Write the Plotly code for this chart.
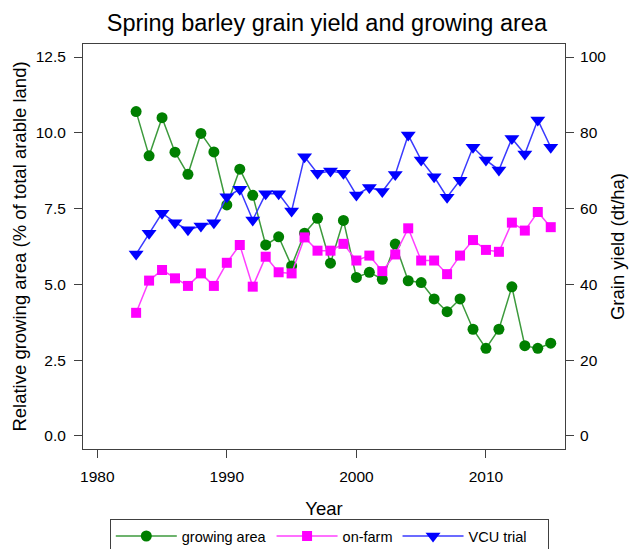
import plotly.graph_objects as go

years = list(range(1983, 2016))

growing_area = [10.70, 9.24, 10.50, 9.36, 8.63, 9.98, 9.37, 7.62, 8.80, 7.94,
                6.30, 6.57, 5.61, 6.69, 7.18, 5.70, 7.11, 5.23, 5.40, 5.17,
                6.33, 5.12, 5.06, 4.52, 4.10, 4.52, 3.52, 2.89, 3.52, 4.92,
                2.98, 2.89, 3.06]

on_farm = [32.5, 41.0, 43.8, 41.6, 39.6, 42.9, 39.6, 45.7, 50.4, 39.4,
           47.3, 43.2, 42.9, 52.4, 48.9, 48.9, 50.7, 46.3, 47.6, 43.5,
           47.9, 54.8, 46.3, 46.3, 42.7, 47.6, 51.7, 49.1, 48.6, 56.3,
           54.2, 59.1, 55.1]

vcu_trial = [48.0, 53.5, 58.8, 56.3, 54.4, 55.4, 56.3, 63.1, 65.1, 57.0,
             63.9, 63.9, 59.4, 73.7, 69.3, 69.9, 69.3, 63.6, 65.6, 64.5,
             69.0, 79.4, 72.8, 68.4, 63.0, 67.5, 76.2, 72.8, 70.2, 78.5,
             74.4, 83.4, 76.2]

x_ticks = [1980, 1990, 2000, 2010]
left_ticks = [0.0, 2.5, 5.0, 7.5, 10.0, 12.5]
right_ticks = [0, 20, 40, 60, 80, 100]

FONT = "Arial, Liberation Sans, sans-serif"
AX = "#404040"

fig = go.Figure()
fig.add_trace(go.Scatter(
    x=years, y=growing_area, name="growing area", mode="lines+markers",
    line=dict(color="#3C9A3C", width=1.5),
    marker=dict(symbol="circle", size=11, color="#007F00"),
    yaxis="y"))
fig.add_trace(go.Scatter(
    x=years, y=on_farm, name="on-farm", mode="lines+markers",
    line=dict(color="#FF40FF", width=1.5),
    marker=dict(symbol="square", size=10, color="#FF00FF"),
    yaxis="y2"))
fig.add_trace(go.Scatter(
    x=years, y=vcu_trial, name="VCU trial\u00a0\u00a0\u00a0\u00a0", mode="lines+markers",
    line=dict(color="#3A3AFF", width=1.5),
    marker=dict(symbol="triangle-down", size=13, color="#0000FF"),
    yaxis="y2"))

fig.update_layout(
    width=631, height=549,
    margin=dict(l=83, r=66, t=44, b=100, autoexpand=False),
    paper_bgcolor="white", plot_bgcolor="white",
    font=dict(family=FONT, color="black", size=15.5),
    title=dict(text="Spring barley grain yield and growing area",
               font=dict(size=23.5, family=FONT, color="black"),
               x=0.518, xanchor="center", y=0.958, yanchor="middle"),
    xaxis=dict(range=[1978.9, 2016.1], tickvals=x_ticks, automargin=False,
               showline=True, linecolor=AX, linewidth=1, mirror=True,
               ticks="outside", ticklen=8, tickcolor=AX, showgrid=False,
               zeroline=False, ticklabelstandoff=5,
               title=dict(text="Year", font=dict(size=18.5), standoff=18)),
    yaxis=dict(range=[-0.43, 12.93], tickvals=left_ticks, automargin=False,
               tickformat=".1f",
               showline=True, linecolor=AX, linewidth=1, mirror=True,
               ticks="outside", ticklen=8, tickcolor=AX, showgrid=False,
               zeroline=False, ticklabelstandoff=5,
               title=dict(text="Relative growing area (% of total arable land)",
                          font=dict(size=18.5), standoff=4)),
    yaxis2=dict(range=[-3.44, 103.44], tickvals=right_ticks, automargin=False,
                overlaying="y", side="right",
                showline=True, linecolor=AX, linewidth=1,
                ticks="outside", ticklen=8, tickcolor=AX, showgrid=False,
                zeroline=False, ticklabelstandoff=3,
                title=dict(text="Grain yield (dt/ha)", font=dict(size=18.5),
                           standoff=5)),
    showlegend=True,
    legend=dict(orientation="h", x=0.511, xanchor="center",
                y=-0.173, yanchor="top",
                bordercolor="#404040", borderwidth=1,
                font=dict(size=14.5), itemwidth=61,
                bgcolor="white"),
)

fig.write_html("out.html",
               config={"displayModeBar": False},
               post_script="document.body.style.margin='0';"
                           "document.body.style.overflow='hidden';")
